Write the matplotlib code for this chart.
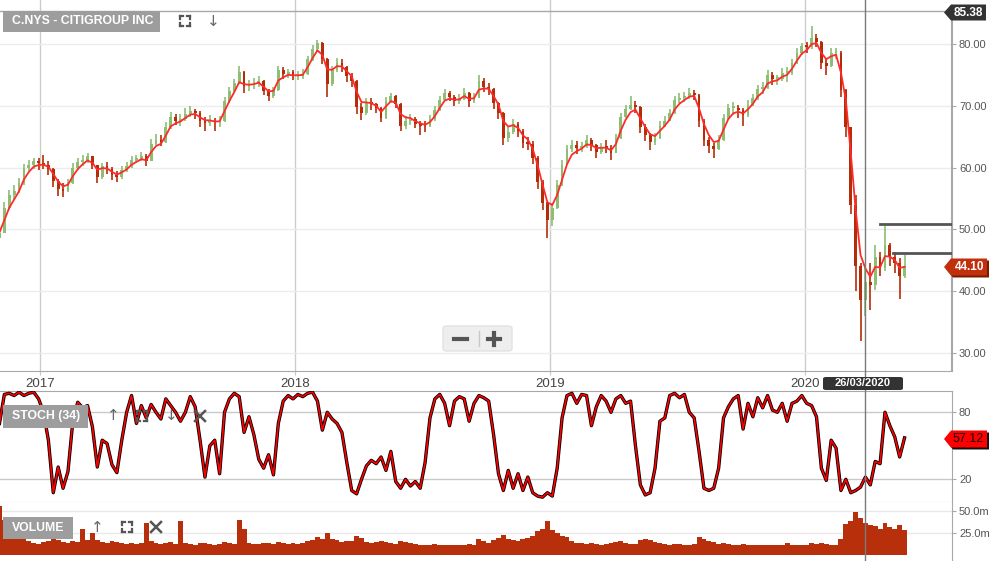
import numpy as np
import pandas as pd
import matplotlib
matplotlib.use('Agg')
import matplotlib.pyplot as plt
import matplotlib.dates as mdates
from matplotlib.patches import Polygon, Rectangle, FancyBboxPatch
from matplotlib.lines import Line2D

plt.rcParams['font.family'] = ['Liberation Sans', 'DejaVu Sans']

# weekly bars, C.NYS, Nov 2016 - May 2020
start = '2016-11-04'
first_open = 48.6
close = [49.5, 53.5, 55.5, 56.2, 57.5, 60.0, 60.5, 61.0, 60.7, 60.5,
         59.8, 57.8, 56.5, 56.2, 57.5, 60.0, 60.9, 61.3, 61.8, 60.4,
         58.5, 60.2, 59.8, 58.8, 58.4, 59.6, 60.2, 61.2, 61.4, 61.8,
         61.0, 63.8, 64.5, 64.2, 66.5, 68.2, 67.6, 67.8, 68.6, 69.1,
         68.8, 67.6, 67.2, 67.6, 67.3, 67.5, 70.8, 72.4, 73.7, 75.4,
         73.2, 73.3, 73.6, 74.0, 72.4, 71.6, 72.5, 75.8, 75.1, 75.4,
         74.9, 74.9, 75.1, 77.5, 79.2, 80.2, 77.5, 73.5, 75.8, 77.0,
         76.3, 74.8, 74.0, 69.8, 68.9, 70.5, 70.3, 69.6, 68.0, 70.8,
         71.6, 70.3, 66.8, 67.6, 67.9, 67.0, 66.8, 66.7, 67.8, 69.3,
         71.0, 72.0, 71.5, 70.8, 71.1, 72.1, 70.7, 71.3, 74.0, 73.0,
         72.7, 70.4, 68.8, 64.8, 65.8, 67.1, 66.0, 64.0, 63.9, 61.5,
         57.7, 54.2, 51.5, 53.5, 57.2, 60.5, 63.0, 63.7, 63.2, 63.5,
         64.4, 63.6, 62.6, 63.3, 63.2, 62.4, 64.8, 68.2, 69.5, 70.2,
         69.8, 66.5, 65.2, 64.2, 64.8, 66.8, 67.6, 68.8, 71.0, 71.3,
         71.5, 72.0, 71.8, 67.5, 64.5, 63.5, 63.0, 64.5, 68.0, 69.6,
         69.7, 69.3, 68.5, 70.1, 71.2, 72.7, 72.9, 75.0, 74.3, 74.3,
         75.3, 75.3, 77.0, 78.6, 79.6, 79.5, 81.0, 80.3, 77.0, 76.5,
         78.5, 78.5, 72.5, 66.5, 54.0, 44.0, 38.5, 41.5, 41.0, 45.5,
         43.8, 47.5, 45.5, 44.5, 42.5, 44.1]
high = [50.5, 54.5, 56.3, 57.2, 58.3, 60.6, 61.3, 61.6, 61.5, 62.0,
        61.0, 60.0, 58.2, 57.5, 58.2, 60.8, 61.5, 62.0, 62.4, 61.9,
        60.5, 60.8, 60.9, 60.1, 59.4, 60.3, 60.9, 61.8, 62.1, 62.5,
        62.2, 64.6, 65.5, 65.2, 67.3, 69.0, 68.7, 68.6, 69.7, 69.9,
        69.5, 69.2, 68.2, 68.5, 68.0, 68.3, 71.4, 73.0, 74.4, 76.5,
        75.6, 74.2, 74.5, 74.8, 74.2, 72.8, 73.1, 76.4, 76.2, 76.0,
        75.8, 75.6, 75.9, 78.0, 79.8, 80.7, 80.3, 77.8, 76.5, 77.8,
        77.5, 76.5, 75.3, 74.2, 70.4, 71.2, 71.2, 70.5, 69.8, 71.5,
        72.1, 71.8, 70.4, 68.3, 68.6, 68.2, 67.6, 67.5, 68.5, 70.0,
        71.6, 72.7, 72.4, 71.8, 71.9, 72.9, 72.3, 72.0, 75.0, 74.5,
        73.7, 72.9, 70.6, 69.0, 66.6, 67.9, 67.4, 66.2, 64.9, 64.3,
        61.8, 58.0, 54.5, 54.2, 58.0, 61.2, 63.7, 64.4, 64.3, 64.2,
        65.2, 64.8, 63.9, 64.0, 64.5, 63.6, 65.5, 68.8, 70.2, 71.6,
        70.8, 70.0, 67.0, 65.6, 65.6, 67.5, 68.4, 69.5, 71.6, 72.1,
        72.2, 72.9, 72.6, 71.9, 67.8, 64.9, 64.0, 65.3, 68.7, 70.3,
        70.6, 70.2, 69.6, 70.9, 71.9, 73.4, 73.8, 75.8, 75.4, 75.0,
        76.1, 76.3, 77.6, 79.3, 80.2, 80.4, 82.9, 81.6, 80.5, 77.6,
        79.3, 79.4, 78.8, 72.8, 66.0, 55.5, 44.5, 43.8, 44.5, 47.5,
        46.3, 50.5, 47.8, 46.3, 45.3, 45.8]
low = [48.3, 49.8, 53.2, 54.8, 55.9, 57.2, 59.5, 59.8, 59.6, 59.7,
       58.8, 56.8, 55.4, 55.3, 56.0, 57.3, 59.6, 60.2, 60.8, 59.8,
       57.5, 58.2, 59.0, 58.0, 57.6, 58.2, 59.3, 60.0, 60.7, 61.0,
       60.2, 61.0, 63.6, 63.5, 64.0, 66.3, 66.9, 66.8, 67.6, 68.2,
       67.9, 66.5, 66.0, 66.7, 65.9, 66.6, 67.4, 70.5, 72.2, 73.5,
       72.0, 72.4, 72.8, 73.0, 71.7, 70.8, 71.3, 72.4, 74.3, 74.5,
       74.1, 74.2, 74.3, 75.0, 77.3, 78.9, 76.8, 71.4, 73.2, 75.5,
       75.5, 73.9, 73.1, 68.6, 67.7, 68.5, 69.4, 68.8, 67.3, 67.9,
       70.5, 69.6, 66.0, 66.2, 66.9, 66.4, 65.3, 65.8, 66.5, 67.6,
       69.2, 70.8, 70.7, 70.0, 70.3, 71.0, 69.8, 70.4, 71.2, 72.3,
       71.8, 69.5, 67.8, 63.6, 64.2, 65.5, 65.0, 63.2, 62.8, 60.6,
       56.5, 53.2, 48.6, 50.5, 53.3, 57.0, 60.4, 62.6, 62.2, 62.5,
       63.2, 62.7, 61.5, 62.2, 62.4, 61.3, 62.3, 64.7, 68.0, 69.3,
       68.9, 65.6, 64.3, 62.8, 63.6, 64.6, 66.5, 67.5, 68.7, 70.4,
       70.6, 71.1, 70.9, 66.6, 63.5, 62.3, 61.6, 62.8, 64.3, 67.7,
       68.5, 68.0, 66.8, 68.2, 69.9, 71.0, 71.9, 72.8, 73.4, 73.3,
       74.0, 73.9, 75.0, 76.8, 78.3, 78.6, 79.2, 79.5, 76.0, 75.0,
       76.3, 77.6, 71.4, 65.0, 52.5, 40.0, 32.0, 36.0, 37.0, 40.2,
       42.5, 43.2, 44.0, 43.0, 38.8, 42.1]
stoch = [70, 96, 97, 95, 98, 95, 97, 98, 92, 80,
         55, 8, 31, 12, 27, 72, 89, 84, 86, 67,
         31, 55, 52, 33, 26, 55, 80, 95, 70, 86,
         75, 87, 80, 74, 92, 86, 80, 72, 80, 94,
         85, 55, 22, 50, 55, 25, 80, 92, 97, 94,
         62, 76, 60, 38, 30, 42, 24, 70, 90, 95,
         92, 96, 94, 97, 98, 90, 64, 80, 74, 70,
         62, 35, 10, 7, 20, 32, 37, 34, 40, 28,
         45, 18, 12, 20, 14, 18, 12, 35, 75, 92,
         96, 88, 68, 90, 94, 92, 72, 88, 95, 93,
         90, 60, 25, 10, 28, 12, 25, 10, 22, 8,
         5, 4, 8, 5, 30, 75, 95, 97, 88, 96,
         95, 68, 85, 95, 90, 80, 92, 95, 88, 90,
         50, 15, 6, 8, 30, 72, 75, 95, 97, 93,
         96, 80, 75, 45, 12, 10, 12, 30, 75, 85,
         92, 95, 65, 88, 76, 93, 84, 95, 82, 80,
         88, 72, 88, 90, 95, 88, 86, 76, 30, 19,
         55, 48, 10, 20, 8, 10, 13, 22, 15, 36,
         34, 80, 68, 58, 40, 57.12]
volume = [55, 40, 30, 25, 20, 18, 16, 14, 13, 15,
          16, 18, 17, 15, 14, 16, 15, 30, 17, 25,
          17, 15, 14, 16, 15, 14, 13, 14, 13, 14,
          36, 16, 14, 13, 14, 15, 13, 38, 14, 13,
          12, 14, 14, 13, 12, 13, 15, 14, 13, 40,
          30, 14, 13, 13, 14, 14, 13, 15, 14, 13,
          14, 13, 14, 16, 17, 20, 18, 25, 18, 17,
          15, 16, 16, 22, 19, 15, 14, 15, 16, 15,
          14, 13, 16, 15, 14, 13, 12, 12, 12, 13,
          12, 12, 11, 11, 12, 12, 13, 12, 18, 16,
          14, 17, 19, 23, 18, 17, 16, 18, 19, 22,
          27, 30, 38, 28, 25, 22, 20, 16, 14, 14,
          13, 14, 13, 12, 13, 14, 15, 16, 14, 13,
          13, 17, 18, 17, 15, 14, 13, 12, 13, 13,
          12, 12, 13, 20, 18, 16, 15, 13, 14, 13,
          12, 12, 13, 12, 12, 11, 11, 12, 11, 11,
          12, 14, 12, 11, 12, 12, 14, 13, 14, 13,
          11, 12, 18, 35, 38, 48, 42, 36, 34, 33,
          30, 36, 32, 30, 34, 28]
level_lines = [50.92, 46.23]
level_from = ['2020-04-17', '2020-05-06']
cursor_date = '2020-03-26'
top_price = 85.38
years = ['2017', '2018', '2019', '2020']

dates = pd.date_range(start, periods=len(close), freq='7D')
opens = [first_open] + close[:-1]
up = np.array(close) >= np.array(opens)

W, H = 1000, 561
fig = plt.figure(figsize=(10, 5.61), dpi=100)

def rect(x0, y0, x1, y1):
    return [x0 / W, 1 - y1 / H, (x1 - x0) / W, (y1 - y0) / H]

def fx(x):
    return x / W

def fy(y):
    return 1 - y / H

ax = fig.add_axes(rect(0, 0, 952, 371))
axs = fig.add_axes(rect(0, 390.5, 952, 502))
axv = fig.add_axes(rect(0, 502, 952, 561))

# time scale: 2017-01-01 at px 40, 2020-01-01 at px 806
ppd = 766 / 1096
x_left = mdates.date2num(pd.Timestamp('2017-01-01')) - 40 / ppd
x_right = x_left + 952 / ppd
for a in (ax, axs, axv):
    a.set_xlim(x_left, x_right)
    a.set_facecolor('white')
    a.spines['left'].set_visible(False)

grey = '#a8a8a8'

# ---- price panel
ax.set_ylim(27.09, 87.12)
ax.set_yticks([30, 40, 50, 60, 70, 80])
ax.set_yticklabels(['%.2f' % v for v in [30, 40, 50, 60, 70, 80]])
ax.yaxis.tick_right()
ax.tick_params(axis='y', length=3, color=grey, labelsize=8, labelcolor='#555', pad=2)
ax.set_xticks([mdates.date2num(pd.Timestamp(y + '-01-01')) for y in years])
ax.set_xticklabels(years)
ax.tick_params(axis='x', length=3, color='#c8c8c8', labelsize=9.5, labelcolor='#444', pad=2)
ax.grid(axis='y', color='#ececec', lw=1)
ax.grid(axis='x', color='#cccccc', lw=1)
ax.set_axisbelow(True)
ax.spines['top'].set_visible(False)
ax.spines['right'].set_visible(False)
ax.spines['bottom'].set_color(grey)
ax.axhline(top_price, color=grey, lw=1, zorder=1)
ax.axvline(x_right, ymin=0, ymax=(top_price - 27.09) / 60.03, color=grey, lw=1.5, clip_on=False)

up_c, dn_c = '#8cbf73', '#b52d08'
cols = np.where(up, up_c, dn_c)
ax.vlines(dates, low, high, colors=cols, lw=1.2, zorder=3)
body_lo = np.minimum(opens, close)
body_h = np.maximum(np.abs(np.array(close) - np.array(opens)), 0.3)
ax.bar(dates, body_h, bottom=body_lo, width=4.0, color=cols, edgecolor='none', zorder=3)
ma = pd.Series(close).ewm(span=3, adjust=False).mean()
ax.plot(dates, ma, color='#ff2a2a', lw=1.3, zorder=4)

for lv, d0 in zip(level_lines, level_from):
    ax.plot([mdates.date2num(pd.Timestamp(d0)), x_right], [lv, lv], color='#555', lw=2, zorder=5)

# ---- stochastic panel
axs.set_ylim(-0.3, 99.5)
axs.set_yticks([20, 80])
axs.yaxis.tick_right()
axs.tick_params(axis='y', length=3, color=grey, labelsize=8, labelcolor='#555', pad=2)
axs.set_xticks([])
axs.axhline(80, color='#c8c8c8', lw=1, zorder=1)
axs.axhline(20, color='#c8c8c8', lw=1, zorder=1)
for s in ('top', 'bottom', 'right'):
    axs.spines[s].set_color(grey)
axs.plot(dates, stoch, color='black', lw=2.4, zorder=3)
axs.plot(dates, stoch, color='#ff0000', lw=1.2, zorder=4)

# ---- volume panel
axv.set_ylim(-6.4, 59.75)
axv.set_yticks([25, 50])
axv.set_yticklabels(['25.0m', '50.0m'])
axv.yaxis.tick_right()
axv.tick_params(axis='y', length=3, color=grey, labelsize=8, labelcolor='#555', pad=2)
axv.set_xticks([])
axv.grid(axis='y', color='#e8e8e8', lw=1)
axv.set_axisbelow(True)
axv.spines['top'].set_visible(False)
axv.spines['bottom'].set_visible(False)
axv.spines['right'].set_color(grey)
axv.bar(dates, volume, width=7, color='#b8300b', edgecolor='none', zorder=3)

# ---- crosshair
cx = (mdates.date2num(pd.Timestamp(cursor_date)) - x_left) * ppd
fig.add_artist(Line2D([fx(cx), fx(cx)], [0, 1], color='#7a7a7a', lw=1, zorder=10))

# ---- overlays
def box(x0, y0, x1, y1, text, fs=8.8):
    fig.add_artist(Rectangle((fx(x0), fy(y1)), (x1 - x0) / W, (y1 - y0) / H,
                             transform=fig.transFigure, fc='#9d9d9d', ec='none', zorder=20))
    fig.text(fx(x0 + 9), fy((y0 + y1) / 2), text, color='white', fontsize=fs,
             fontweight='bold', va='center', ha='left', zorder=21)

def corners(cx_, cy_, s=5):
    for sx in (-1, 1):
        for sy in (-1, 1):
            xa, ya = cx_ + sx * s, cy_ + sy * s
            fig.add_artist(Line2D([fx(xa), fx(xa - sx * 3)], [fy(ya), fy(ya)], color='#555', lw=1.6, zorder=21))
            fig.add_artist(Line2D([fx(xa), fx(xa)], [fy(ya), fy(ya - sy * 3)], color='#555', lw=1.6, zorder=21))

def cross(cx_, cy_, s=5):
    fig.add_artist(Line2D([fx(cx_ - s), fx(cx_ + s)], [fy(cy_ - s), fy(cy_ + s)], color='#555', lw=1.8, zorder=21))
    fig.add_artist(Line2D([fx(cx_ - s), fx(cx_ + s)], [fy(cy_ + s), fy(cy_ - s)], color='#555', lw=1.8, zorder=21))

def arrow(cx_, cy_, ch):
    fig.text(fx(cx_), fy(cy_), ch, color='#666', fontsize=11, ha='center', va='center',
             family='DejaVu Sans', zorder=21)

box(3, 11, 160, 32, 'C.NYS - CITIGROUP INC')
corners(185, 21)
arrow(213, 21, '↓')
box(3, 405, 88, 428, 'STOCH (34)')
arrow(113, 415, '↑')
corners(142, 416)
arrow(171, 415, '↓')
cross(200, 416)
box(3, 517, 73, 539, 'VOLUME')
arrow(97, 527, '↑')
corners(127, 527)
cross(156, 527)

# zoom buttons
fig.add_artist(FancyBboxPatch((fx(443), fy(351)), 69 / W, 25 / H, boxstyle='round,pad=0,rounding_size=0.004',
                              transform=fig.transFigure, fc='#eeeeee', ec='#e2e2e2', zorder=20))
fig.add_artist(Line2D([fx(479), fx(479)], [fy(331), fy(346)], color='#c8c8c8', lw=1, zorder=21))
fig.add_artist(Line2D([fx(454), fx(467)], [fy(338.5), fy(338.5)], color='#555', lw=3, zorder=21))
fig.add_artist(Line2D([fx(488), fx(500)], [fy(338.5), fy(338.5)], color='#555', lw=3, zorder=21))
fig.add_artist(Line2D([fx(494), fx(494)], [fy(332.5), fy(344.5)], color='#555', lw=3, zorder=21))

def tag(x_tip, yc, x_right_px, h, fc, text, tc, shadow=None, bold=True, fs=8.5):
    pts = [(x_tip, yc), (x_tip + 7, yc - h / 2), (x_right_px, yc - h / 2),
           (x_right_px, yc + h / 2), (x_tip + 7, yc + h / 2)]
    if shadow is not None:
        sp = [(fx(px + 2), fy(py + 2)) for px, py in pts]
        fig.add_artist(Polygon(sp, closed=True, transform=fig.transFigure, fc=shadow, ec='none', zorder=20))
    fp = [(fx(px), fy(py)) for px, py in pts]
    fig.add_artist(Polygon(fp, closed=True, transform=fig.transFigure, fc=fc, ec='none', zorder=21))
    fig.text(fx(x_right_px - 3), fy(yc), text, color=tc, fontsize=fs, ha='right', va='center',
             fontweight='bold' if bold else 'normal', zorder=22)

tag(944, 12.5, 986, 16, '#333333', '%.2f' % top_price, 'white')
tag(944, 267, 987, 17, '#c0300c', '%.2f' % close[-1], 'white', shadow='#7a1a00')
tag(944, 439, 987, 17, '#ff0000', '%.2f' % stoch[-1], '#1a0000', shadow='#111111', bold=False, fs=9)

# cursor date label
fig.add_artist(FancyBboxPatch((fx(823), fy(390)), 80 / W, 13 / H, boxstyle='round,pad=0,rounding_size=0.003',
                              transform=fig.transFigure, fc='#333333', ec='none', zorder=22))
fig.text(fx(863), fy(383.5), pd.Timestamp(cursor_date).strftime('%d/%m/%Y'), color='white',
         fontsize=8, fontweight='bold', ha='center', va='center', zorder=23)

fig.savefig('out.png', dpi=100)
